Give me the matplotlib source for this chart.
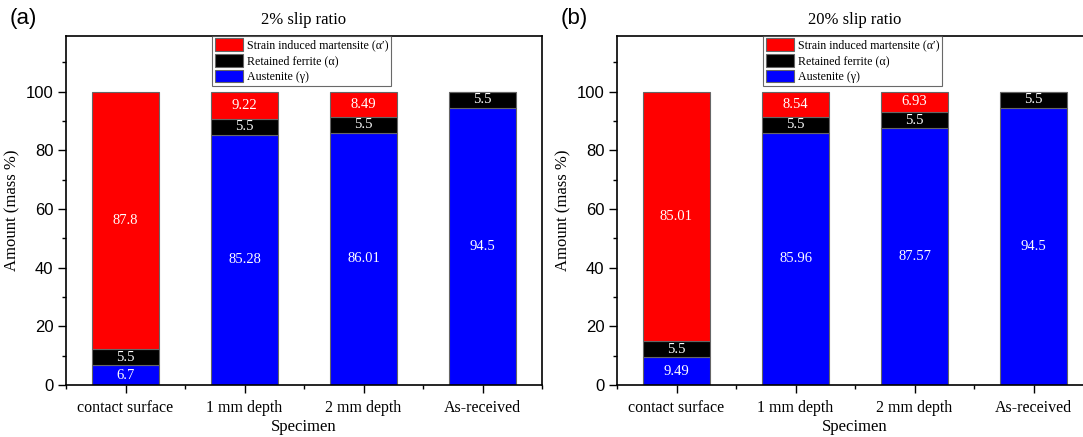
import matplotlib.pyplot as plt
import numpy as np

specimens = ['contact surface', '1 mm depth', '2 mm depth', 'As-received']
titles = ['2% slip ratio', '20% slip ratio']
panels = ['(a)', '(b)']

# phase amounts (mass %) for each panel
austenite = [[6.7, 85.28, 86.01, 94.5],
             [9.49, 85.96, 87.57, 94.5]]
ferrite = [[5.5, 5.5, 5.5, 5.5],
           [5.5, 5.5, 5.5, 5.5]]
martensite = [[87.8, 9.22, 8.49, 0],
              [85.01, 8.54, 6.93, 0]]

serif = ['Liberation Serif', 'DejaVu Serif']
sans = ['Liberation Sans', 'DejaVu Sans']

fig = plt.figure(figsize=(10.83, 4.37), dpi=100)
lefts = [66 / 1083, 617 / 1083]
x = np.arange(1, len(specimens) + 1)

for i in range(2):
    ax = fig.add_axes([lefts[i], 52 / 437, 476 / 1083, 349 / 437])
    aus = np.array(austenite[i])
    fer = np.array(ferrite[i])
    mar = np.array(martensite[i])

    b1 = ax.bar(x, aus, 0.56, color='#0000ff', edgecolor='#666666', lw=0.8,
                label='Austenite (γ)')
    b2 = ax.bar(x, fer, 0.56, bottom=aus, color='black', edgecolor='#666666', lw=0.8,
                label='Retained ferrite (α)')
    b3 = ax.bar(x, mar, 0.56, bottom=aus + fer, color='#ff0000', edgecolor='#666666', lw=0.8,
                label='Strain induced martensite (α′)')

    # value labels in the middle of every segment
    for vals, bottoms in [(aus, 0 * aus), (fer, aus), (mar, aus + fer)]:
        for xi, v, b in zip(x, vals, bottoms):
            if v > 0:
                ax.text(xi, b + v / 2, f'{v:g}', ha='center', va='center',
                        color='white', fontsize=10.5, family=serif)

    ax.set_xlim(0.5, 4.5)
    ax.set_ylim(0, 119)
    ax.set_yticks([0, 20, 40, 60, 80, 100])
    ax.set_yticks(np.arange(10, 120, 20), minor=True)
    ax.set_xticks(x)
    ax.set_xticks(np.arange(0.5, 5, 1), minor=True)
    ax.set_xticklabels(specimens, family=serif, fontsize=11.5)
    for lab in ax.get_yticklabels():
        lab.set_family(sans)
        lab.set_fontsize(12)
    ax.tick_params(direction='out', length=6, width=1)
    ax.tick_params(which='minor', direction='out', length=3, width=1)
    ax.tick_params(axis='x', pad=5)
    ax.tick_params(axis='y', pad=3)
    for s in ax.spines.values():
        s.set_linewidth(1.2)

    ax.set_xlabel('Specimen', family=serif, fontsize=12, labelpad=2)
    ax.set_ylabel('Amount (mass %)', family=serif, fontsize=12, labelpad=4)
    ax.set_title(titles[i], family=serif, fontsize=12, pad=9)
    ax.text(-0.118, 1.05, panels[i], transform=ax.transAxes, family=sans, fontsize=16,
            ha='left', va='center')

    leg = ax.legend(handles=[b3, b2, b1], loc='upper center', bbox_to_anchor=(0.495, 1.0),
                    borderaxespad=0, fancybox=False, edgecolor='#444444',
                    prop={'family': serif, 'size': 8.6}, handlelength=2.4, handleheight=1.25,
                    labelspacing=0.2, borderpad=0.2, handletextpad=0.3)
    leg.get_frame().set_linewidth(0.8)

fig.savefig('out.png', dpi=100)
